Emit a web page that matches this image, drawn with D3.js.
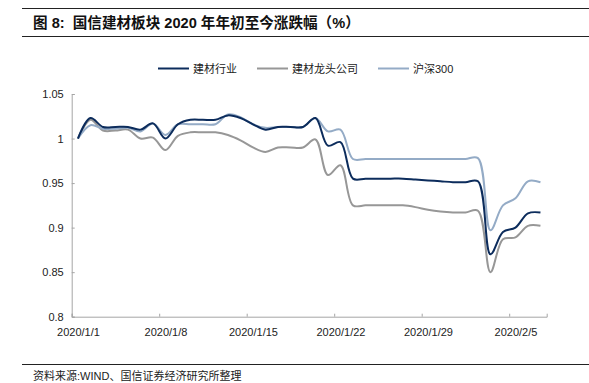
<!DOCTYPE html>
<html>
<head>
<meta charset="utf-8">
<script src="https://cdn.jsdelivr.net/npm/d3@7"></script>
<style>
  body { margin: 0; background: #fff; }
  text { font-family: "Liberation Sans", Arial, "Noto Sans CJK SC", sans-serif; }
</style>
</head>
<body>
<div id="chart"></div>
<script>
// categories: calendar days 2020/1/1 .. 2020/2/7
var days = ["2020/1/1","2020/1/2","2020/1/3","2020/1/4","2020/1/5","2020/1/6","2020/1/7","2020/1/8",
  "2020/1/9","2020/1/10","2020/1/11","2020/1/12","2020/1/13","2020/1/14","2020/1/15","2020/1/16",
  "2020/1/17","2020/1/18","2020/1/19","2020/1/20","2020/1/21","2020/1/22","2020/1/23","2020/1/24",
  "2020/1/25","2020/1/26","2020/1/27","2020/1/28","2020/1/29","2020/1/30","2020/1/31","2020/2/1",
  "2020/2/2","2020/2/3","2020/2/4","2020/2/5","2020/2/6","2020/2/7"];

// 建材行业
var industry = [1.000,1.023,1.013,1.013,1.013,1.010,1.017,1.000,1.016,1.021,1.021,1.021,1.026,1.023,
  1.016,1.010,1.013,1.013,1.013,1.023,0.992,0.996,0.955,0.955,0.955,0.955,0.955,0.954,0.953,0.952,
  0.951,0.951,0.952,0.870,0.895,0.900,0.916,0.917];
// 建材龙头公司
var leaders = [1.000,1.021,1.009,1.009,1.010,1.000,1.001,0.987,1.003,1.007,1.007,1.007,1.004,0.998,
  0.990,0.985,0.990,0.990,0.990,0.999,0.959,0.970,0.925,0.925,0.925,0.925,0.925,0.923,0.920,0.918,
  0.917,0.917,0.919,0.850,0.887,0.889,0.902,0.902];
// 沪深300
var hs300 = [1.000,1.015,1.011,1.011,1.012,1.008,1.017,1.004,1.016,1.016,1.016,1.016,1.027,1.024,
  1.016,1.012,1.013,1.013,1.013,1.023,1.008,1.010,0.977,0.977,0.977,0.977,0.977,0.977,0.977,0.977,
  0.977,0.977,0.978,0.897,0.925,0.933,0.952,0.951];

var seriesNames = ["建材行业", "建材龙头公司", "沪深300"];
var xTickLabels = ["2020/1/1","2020/1/8","2020/1/15","2020/1/22","2020/1/29","2020/2/5"];
var yTicks = [0.8, 0.85, 0.9, 0.95, 1, 1.05];

var colors = ["#0c2c5c", "#979797", "#94abc6"];

var W = 589, H = 383;
var svg = d3.select("#chart").append("svg")
    .attr("width", W)
    .attr("height", H);

// header rules + title
svg.append("line").attr("x1", 22).attr("x2", W).attr("y1", 8.5).attr("y2", 8.5)
    .attr("stroke", "#222").attr("stroke-width", 1);
svg.append("line").attr("x1", 22).attr("x2", W).attr("y1", 36.5).attr("y2", 36.5)
    .attr("stroke", "#222").attr("stroke-width", 1);
svg.append("text")
    .attr("x", 33).attr("y", 28)
    .attr("font-size", "14.6px")
    .attr("font-weight", "bold")
    .attr("fill", "#111")
    .style("white-space", "pre")
    .text("图 8:  国信建材板块 2020 年年初至今涨跌幅（%）");

// scales
var parse = d3.timeParse("%Y/%m/%d");
var x = d3.scaleTime()
    .domain([parse("2020/1/1"), parse("2020/2/8")])
    .range([71.7, 546.7]);
var y = d3.scaleLinear()
    .domain([0.8, 1.05])
    .range([316.7, 94]);

// day centre (excel puts date points in the middle of the day slot)
function xc(s) { return x(d3.timeHour.offset(parse(s), 12)); }

var axisColor = "#a6a6a6";

// y axis
var yAxis = svg.append("g")
    .attr("transform", "translate(71.7,0)")
    .call(d3.axisLeft(y).tickValues(yTicks).tickSize(-3).tickPadding(8)
        .tickFormat(function (d) { return d3.format("~g")(d); }));
yAxis.select(".domain").attr("stroke", axisColor);
yAxis.selectAll(".tick line").attr("stroke", axisColor);
yAxis.selectAll("text")
    .attr("font-size", "11px")
    .attr("fill", "#222")
    .attr("font-family", "'Liberation Sans', Arial, sans-serif");

// x axis
var xAxis = svg.append("g")
    .attr("transform", "translate(0,316.7)")
    .call(d3.axisBottom(x).tickValues(xTickLabels.map(parse)).tickSize(-3).tickPadding(0)
        .tickFormat(d3.timeFormat("%Y/%-m/%-d")));
xAxis.select(".domain").attr("stroke", axisColor);
xAxis.selectAll(".tick line").attr("stroke", axisColor);
xAxis.selectAll("text")
    .attr("font-size", "11px")
    .attr("fill", "#222")
    .attr("font-family", "'Liberation Sans', Arial, sans-serif")
    .attr("dx", 6.25)
    .attr("y", 12);

// lines
var line = d3.line()
    .curve(d3.curveCatmullRom.alpha(0.5))
    .x(function (d, i) { return xc(days[i]); })
    .y(function (d) { return y(d); });

var data = [leaders, hs300, industry];
var order = [1, 2, 0];
data.forEach(function (s, k) {
    svg.append("path")
        .datum(s)
        .attr("fill", "none")
        .attr("stroke", colors[order[k]])
        .attr("stroke-width", 2)
        .attr("stroke-linejoin", "round")
        .attr("d", line);
});

// legend
var lx = 158;
seriesNames.forEach(function (name, i) {
    svg.append("line")
        .attr("x1", lx).attr("x2", lx + 31)
        .attr("y1", 68.5).attr("y2", 68.5)
        .attr("stroke", colors[i]).attr("stroke-width", 2);
    var t = svg.append("text")
        .attr("x", lx + 35).attr("y", 72.5)
        .attr("font-size", "11px")
        .attr("fill", "#222")
        .text(name);
    lx += 35 + t.node().getComputedTextLength() + 20;
});

// footer
svg.append("line").attr("x1", 22).attr("x2", W).attr("y1", 364.5).attr("y2", 364.5)
    .attr("stroke", "#222").attr("stroke-width", 1);
svg.append("text")
    .attr("x", 33).attr("y", 380)
    .attr("font-size", "11px")
    .attr("fill", "#222")
    .text("资料来源:WIND、国信证券经济研究所整理");
</script>
</body>
</html>
